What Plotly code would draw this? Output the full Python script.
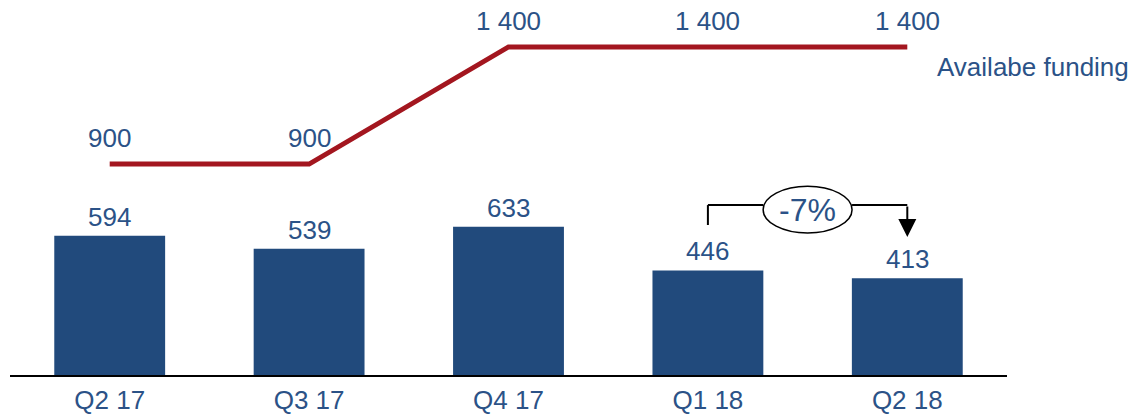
import plotly.graph_objects as go

categories = ["Q2 17", "Q3 17", "Q4 17", "Q1 18", "Q2 18"]
bar_values = [594, 539, 633, 446, 413]
funding_values = [900, 900, 1400, 1400, 1400]
funding_labels = ["900", "900", "1 400", "1 400", "1 400"]
bar_labels = [str(v) for v in bar_values]
change_label = "-7%"
series_label = "Availabe funding"

BAR_COLOR = "#214A7C"
LINE_COLOR = "#A3161F"
TEXT_COLOR = "#2B5287"
FONT = "Liberation Sans, Arial, sans-serif"
FS = 26

fig = go.Figure()
fig.add_trace(go.Bar(x=categories, y=bar_values, marker=dict(color=BAR_COLOR, line=dict(width=0)),
                     hoverinfo="skip"))
fig.add_trace(go.Scatter(x=categories, y=funding_values, mode="lines",
                         line=dict(color=LINE_COLOR, width=5), hoverinfo="skip"))

annotations = []
for c, v, t in zip(categories, bar_values, bar_labels):
    annotations.append(dict(x=c, y=v, text=t, showarrow=False, yanchor="middle", yshift=19,
                            font=dict(size=FS, color=TEXT_COLOR, family=FONT)))
for c, v, t in zip(categories, funding_values, funding_labels):
    annotations.append(dict(x=c, y=v, text=t, showarrow=False, yanchor="middle", yshift=26,
                            font=dict(size=FS, color=TEXT_COLOR, family=FONT)))
annotations.append(dict(x=1.0, xref="paper", xanchor="left", xshift=-72, y=1313, yref="y",
                        text=series_label, showarrow=False, yanchor="middle",
                        font=dict(size=FS, color=TEXT_COLOR, family=FONT)))

# -7% bracket between Q1 18 and Q2 18
i0, i1 = 3, 4
bracket_y = 725
left_bottom = 640
tip_y = 589
ell_x0, ell_x1 = 3.277, 3.723
ell_y0, ell_y1 = 606, 805
shapes = [
    dict(type="line", x0=i0, x1=i0, y0=left_bottom, y1=bracket_y, xref="x", yref="y",
         line=dict(color="black", width=2)),
    dict(type="line", x0=i0, x1=ell_x0, y0=bracket_y, y1=bracket_y, xref="x", yref="y",
         line=dict(color="black", width=2)),
    dict(type="line", x0=ell_x1, x1=i1, y0=bracket_y, y1=bracket_y, xref="x", yref="y",
         line=dict(color="black", width=2)),
    dict(type="circle", x0=ell_x0, x1=ell_x1, y0=ell_y0, y1=ell_y1, xref="x", yref="y",
         line=dict(color="black", width=1.5), fillcolor="white"),
]
annotations.append(dict(x=i1, y=tip_y, ax=i1, ay=bracket_y, xref="x", yref="y", axref="x", ayref="y",
                        showarrow=True, arrowhead=2, arrowsize=1.8, arrowwidth=2, arrowcolor="black",
                        standoff=0, startstandoff=0, text=""))
annotations.append(dict(x=(i0 + i1) / 2, y=(ell_y0 + ell_y1) / 2, text=change_label, showarrow=False,
                        yanchor="middle", font=dict(size=32, color=TEXT_COLOR, family=FONT)))

fig.update_layout(
    width=1137, height=416,
    margin=dict(l=10, r=130, t=0, b=41, autoexpand=False),
    paper_bgcolor="white", plot_bgcolor="white",
    showlegend=False, bargap=0.444,
    annotations=annotations, shapes=shapes,
    font=dict(family=FONT, color=TEXT_COLOR),
)
fig.update_xaxes(showline=True, linecolor="black", linewidth=1.5, ticks="", showgrid=False,
                 automargin=False,
                 tickfont=dict(size=FS, color=TEXT_COLOR, family=FONT), ticklabelstandoff=1)
fig.update_yaxes(range=[0, 1600], visible=False, showgrid=False, zeroline=False, automargin=False)

fig.write_html("out.html", config={"displayModeBar": False},
               post_script="document.body.style.margin='0';document.body.style.overflow='hidden';")
